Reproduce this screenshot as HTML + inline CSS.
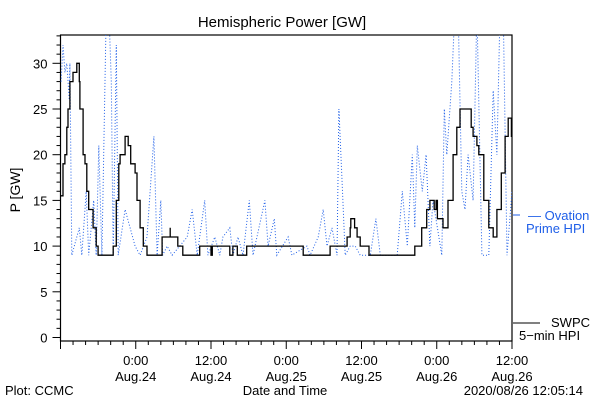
<!DOCTYPE html>
<html><head><meta charset="utf-8"><style>
html,body{margin:0;padding:0;background:#fff;width:600px;height:400px;overflow:hidden}
svg{display:block;font-family:"Liberation Sans",sans-serif}
</style></head><body>
<svg id="chart" width="600" height="400" viewBox="0 0 600 400">
<defs><clipPath id="clip"><rect x="60.5" y="35" width="451.5" height="306"/></clipPath></defs>
<text x="282" y="27" font-size="15" text-anchor="middle">Hemispheric Power [GW]</text>
<text transform="translate(20,190) rotate(-90)" font-size="14" text-anchor="middle">P [GW]</text>
<rect x="60.5" y="35" width="451.5" height="306" fill="none" stroke="#000" stroke-width="1.2"/>
<g id="yaxis"></g>
<g id="xaxis"></g>
<g clip-path="url(#clip)">
<polyline id="ovation" fill="none" stroke="#1f5fe8" stroke-width="1" stroke-dasharray="1,2"/>
<path id="swpc" fill="none" stroke="#000" stroke-width="1.3"/>
</g>
<g>
<line x1="513" y1="215" x2="520" y2="215" stroke="#1f5fe8"/>
<text x="528" y="220" font-size="13" fill="#1f5fe8">— Ovation</text>
<text x="526" y="233" font-size="13" fill="#1f5fe8">Prime HPI</text>
<line x1="513" y1="323" x2="540" y2="323" stroke="#000"/>
<text x="551" y="327" font-size="13">SWPC</text>
<text x="519" y="340" font-size="13">5−min HPI</text>
</g>
<text x="5" y="395" font-size="13">Plot: CCMC</text>
<text x="285" y="395" font-size="13" text-anchor="middle">Date and Time</text>
<text x="583" y="395" font-size="13" text-anchor="end">2020/08/26 12:05:14</text>
</svg>
<script>
const yTicks=[0,5,10,15,20,25,30];
const xTickHours=[12,24,36,48,60,72];
const xTickTime=["0:00","12:00","0:00","12:00","0:00","12:00"];
const xTickDate=["Aug.24","Aug.24","Aug.25","Aug.25","Aug.26","Aug.26"];
const swpcT=[0,0.4,0.7,1.0,1.2,1.5,2.0,2.6,3.0,3.1,3.6,3.9,4.2,4.5,5.2,5.7,6.0,8.2,8.4,8.9,9.3,9.5,10.3,10.8,11.2,11.9,12.2,12.7,13.2,13.8,15.9,16.2,17.5,17.5,17.5,18.6,18.7,19.5,19.5,22.1,22.2,24.0,24.0,24.2,27.0,27.0,27.5,27.5,28.2,28.2,29.7,29.7,31.2,38.7,38.7,43.0,43.0,45.5,45.7,46.2,46.3,46.9,47.3,47.8,49.2,49.2,56.3,56.5,57.6,58.4,58.9,59.6,59.9,60.1,61.0,61.8,62.6,63.2,63.7,64.8,65.5,65.8,66.4,66.7,67.5,68.3,69.0,69.6,70.3,70.9,71.4,71.9,72];
const swpcV=[15.5,19,20,23,25,28,29,30,28,25,20,19,16,14,12,10,9,9,10,15,19,20,22,21,19,18,15,12,10,9,9,11,11,12,11,11,10,10,9,9,10,10,9,10,10,9,9,10,10,9,9,10,10,10,9,9,10,10,11,12,13,12,11,10,10,9,9,10,12,14,15,14,15,13,12,15,20,23,25,25,23,22,21,20,15,12,11,14,18,22,24,22,22];
const ovT=[0.1,0.4,0.7,1.0,1.4,1.5,1.8,3.0,3.4,4.1,4.5,5.3,5.7,6.1,6.6,7.3,7.7,8.1,8.4,8.9,9.2,10.3,11.1,11.9,12.7,13.8,14.9,15.4,16.0,16.3,17.0,17.8,20.2,21.0,21.8,23.0,23.5,24.6,25.4,25.9,27.0,27.5,28.3,29.1,30.1,30.7,32.6,33.1,34.1,34.5,36.3,36.9,39.3,39.8,41.1,41.9,42.5,43.3,44.1,44.4,44.9,45.4,46.2,47.0,47.8,49.4,50.3,51.0,53.7,54.5,55.3,56.1,56.5,56.9,57.7,58.3,58.9,59.4,60.1,60.8,61.2,61.6,62.4,62.9,63.4,64.0,64.5,65.0,65.8,66.4,67.2,68.3,69.0,69.6,70.1,70.6,71.2,72];
const ovV=[28,32,29,30,26,30,9,12,9,16,9,15,9,21,9,36,36,28,9,32,9,14,12,10,9,11,22,9,15,9,10,9,11,14,9,15,9,11,9,11,12,9,11,9,15,9,15,10,13,9,11,9,10,9,11,14,10,12,9,25,17,9,10,10,9,9,13,9,9,16,10,20,12,21,16,20,10,15,12,9,25,20,28,36,36,16,14,20,15,36,9,9,27,20,36,36,9,16];
const X0=60.5,X1=512,Y0=337.5,PPU=9.14;
const xs=h=>X0+h*(X1-X0)/72, ys=v=>Y0-v*PPU;
const NS="http://www.w3.org/2000/svg";
function mk(tag,attrs,parent){const e=document.createElementNS(NS,tag);for(const k in attrs)e.setAttribute(k,attrs[k]);parent.appendChild(e);return e;}
const ya=document.getElementById('yaxis'), xa=document.getElementById('xaxis');
for(let v=0;v<=33;v++){
  const major=v%5===0;
  const t=mk('line',{x1:X0,x2:X0-(major?8:4),y1:ys(v),y2:ys(v),stroke:'#000'},ya);
  
  
}
yTicks.forEach(v=>{
  const t=mk('text',{x:X0-13,y:ys(v)+5,'font-size':13,'text-anchor':'end'},ya);
  t.textContent=v;
  
  
});
for(let h=0;h<=72;h+=2){
  const major=h%12===0;
  const t=mk('line',{x1:xs(h),x2:xs(h),y1:341,y2:341+(major?8:4),stroke:'#000'},xa);
  
  
}
xTickHours.forEach((h,i)=>{
  const a=mk('text',{x:xs(h),y:365,'font-size':13,'text-anchor':'middle'},xa);
  a.textContent=xTickTime[i];
  
  
  const b=mk('text',{x:xs(h),y:381,'font-size':13,'text-anchor':'middle'},xa);
  b.textContent=xTickDate[i];
  
  
});
let d='M'+xs(swpcT[0]).toFixed(1)+','+ys(swpcV[0]).toFixed(1);
for(let i=1;i<swpcT.length;i++){
  d+=' H'+xs(swpcT[i]).toFixed(1)+' V'+ys(swpcV[i]).toFixed(1);
}
document.getElementById('swpc').setAttribute('d',d);
document.getElementById('ovation').setAttribute('points',ovT.map((t,i)=>xs(t).toFixed(1)+','+ys(ovV[i]).toFixed(1)).join(' '));
</script>
</body></html>
